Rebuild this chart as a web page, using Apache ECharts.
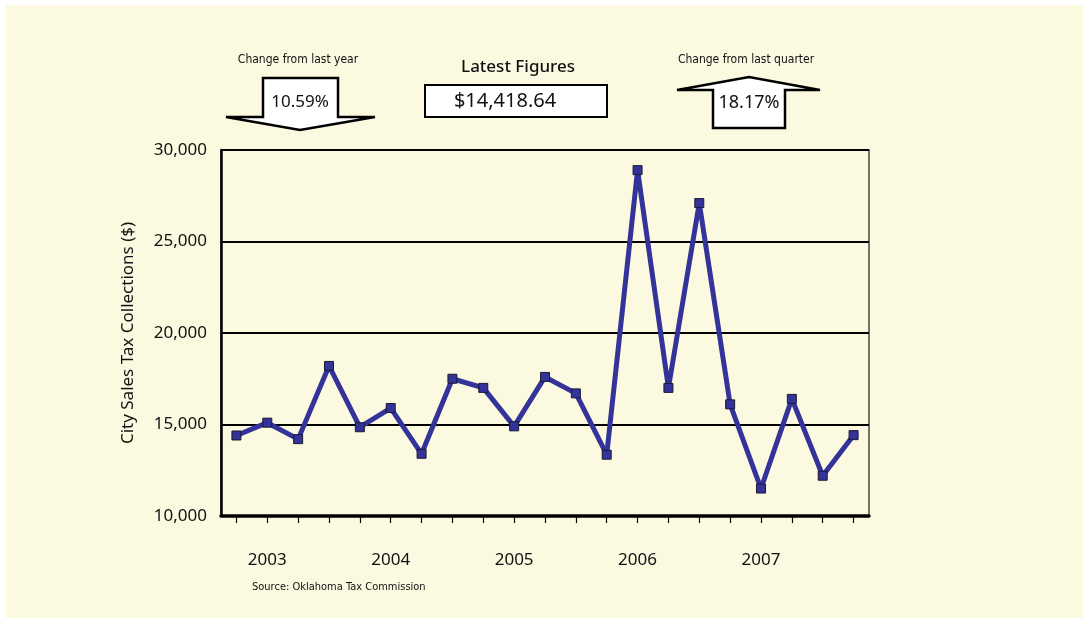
<!DOCTYPE html>
<html>
<head>
<meta charset="utf-8">
<title>City Sales Tax Collections</title>
<script src="https://cdn.jsdelivr.net/npm/echarts@6/dist/echarts.min.js"></script>
<style>
  html, body { margin: 0; padding: 0; background: #ffffff; }
  #main { width: 1083px; height: 619px; }
</style>
</head>
<body>
<div id="main"></div>
<script>
// quarterly collections, one label per year
var categories = ['', '2003', '', '', '', '2004', '', '', '', '2005', '', '', '', '2006', '', '', '', '2007', '', '', ''];
var collections = [14400, 15100, 14200, 18200, 14850, 15900, 13400, 17500, 17000, 14900, 17600, 16700,
  13350, 28900, 17000, 27100, 16100, 11500, 16400, 12200, 14418.64];
var yTicks = [10000, 15000, 20000, 25000, 30000];

var latestFigure = '$14,418.64';
var yearChange = '10.59%';
var quarterChange = '18.17%';

var font = "'Noto Sans', 'Open Sans', sans-serif";
var narrow = "'Liberation Sans Narrow', 'DejaVu Sans Condensed', sans-serif";

var chartDom = document.getElementById('main');
var myChart = echarts.init(chartDom);
var option;

option = {
  animation: false,
  backgroundColor: '#ffffff',
  textStyle: { fontFamily: font },
  grid: {
    left: 221, right: 214, top: 150, bottom: 103,
    show: true, borderColor: '#444', borderWidth: 1.5, backgroundColor: 'transparent'
  },
  graphic: [
    { type: 'rect', z: -10, shape: { x: 6, y: 5, width: 1077, height: 613 }, style: { fill: '#fcf9e1' }, silent: true },
    // down arrow (change from last year)
    { type: 'polygon', shape: { points: [[263, 78], [338, 78], [338, 117], [375, 117], [300, 130], [226, 117], [263, 117]] },
      style: { fill: '#ffffff', stroke: '#000', lineWidth: 2.5 } },
    { type: 'text', style: { text: 'Change from last year', x: 298, y: 60, align: 'center', verticalAlign: 'middle', fontSize: 12, fontFamily: narrow, fill: '#111' } },
    { type: 'text', style: { text: yearChange, x: 300, y: 102, align: 'center', verticalAlign: 'middle', fontSize: 17, fontFamily: font, fill: '#111' } },
    // latest figure box
    { type: 'text', style: { text: 'Latest Figures', x: 518, y: 67, align: 'center', verticalAlign: 'middle', fontSize: 17, fontWeight: 500, fontFamily: font, fill: '#111' } },
    { type: 'rect', shape: { x: 425, y: 85, width: 182, height: 32 }, style: { fill: '#ffffff', stroke: '#000', lineWidth: 2 } },
    { type: 'text', style: { text: latestFigure, x: 505, y: 101, align: 'center', verticalAlign: 'middle', fontSize: 20, fontFamily: font, fill: '#111' } },
    // up arrow (change from last quarter)
    { type: 'polygon', shape: { points: [[713, 128], [785, 128], [785, 90], [820, 90], [749, 77], [677, 90], [713, 90]] },
      style: { fill: '#ffffff', stroke: '#000', lineWidth: 2.5 } },
    { type: 'text', style: { text: 'Change from last quarter', x: 746, y: 60, align: 'center', verticalAlign: 'middle', fontSize: 12, fontFamily: narrow, fill: '#111' } },
    { type: 'text', style: { text: quarterChange, x: 749, y: 103, align: 'center', verticalAlign: 'middle', fontSize: 18, fontFamily: font, fill: '#111' } },
    // source
    { type: 'text', style: { text: 'Source: Oklahoma Tax Commission', x: 252, y: 587, align: 'left', verticalAlign: 'middle', fontSize: 11, fontFamily: narrow, fill: '#111' } }
  ],
  xAxis: {
    type: 'category',
    data: categories,
    boundaryGap: true,
    axisLine: { lineStyle: { color: '#000', width: 3.5 } },
    axisTick: { show: true, alignWithLabel: true, interval: 0, length: 7, lineStyle: { color: '#000', width: 1.2 } },
    axisLabel: { interval: 0, margin: 36, fontSize: 17, color: '#111' },
    splitLine: { show: false }
  },
  yAxis: {
    type: 'value',
    min: yTicks[0],
    max: yTicks[yTicks.length - 1],
    interval: 5000,
    name: 'City Sales Tax Collections ($)',
    nameLocation: 'middle',
    nameGap: 84,
    nameRotate: 90,
    nameTextStyle: { fontSize: 17, color: '#111' },
    axisLine: { show: true, lineStyle: { color: '#000', width: 2.5 } },
    axisTick: { show: false },
    axisLabel: {
      margin: 14, fontSize: 17, color: '#111',
      formatter: function (v) { return v.toLocaleString('en-US'); }
    },
    splitLine: { show: true, lineStyle: { color: '#000', width: 2 } }
  },
  series: [
    {
      name: 'Collections',
      type: 'line',
      data: collections,
      color: '#333399',
      lineStyle: { width: 5, color: '#333399' },
      symbol: 'rect',
      symbolSize: 9,
      itemStyle: { color: '#333399', borderColor: '#1a1a33', borderWidth: 1 }
    }
  ]
};

option && myChart.setOption(option);
</script>
</body>
</html>
